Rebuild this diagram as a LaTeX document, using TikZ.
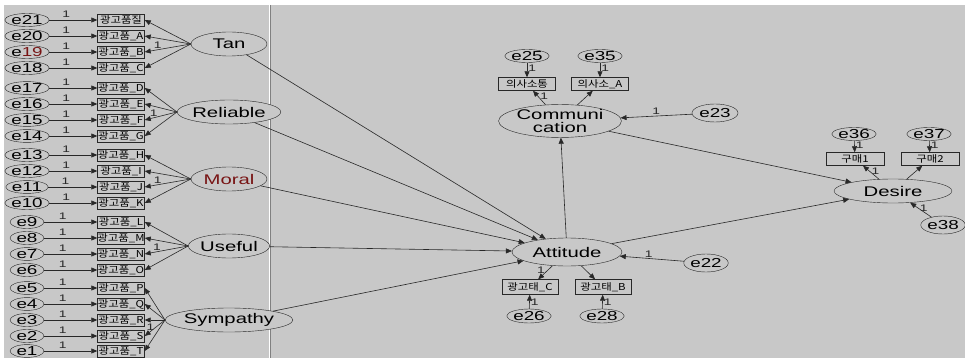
\documentclass[tikz,border=0pt]{standalone}
\usepackage{fontspec}
\setmainfont[FakeStretch=1.45]{Liberation Sans}
\newfontfamily\kor[FakeStretch=1.2]{Noto Sans CJK KR}
\usepackage{tikz}
\usetikzlibrary{arrows.meta, shapes.geometric}
\usepackage{xcolor}
\definecolor{amosbg}{RGB}{200,200,200}
\definecolor{amosline}{RGB}{40,40,40}
\definecolor{amosred}{RGB}{120,20,20}

\begin{document}
\begin{tikzpicture}[
    x=1pt, y=-1pt,
    err/.style={ellipse, draw=amosline, fill=amosbg, inner sep=0pt,
                minimum width=34pt, minimum height=12pt, font=\fontsize{13}{13}\selectfont},
    errbig/.style={err, minimum width=#1, minimum height=18pt},
    obs/.style={rectangle, draw=amosline, fill=amosbg, inner sep=0pt,
                minimum width=47pt, minimum height=12pt, font=\kor\fontsize{9.5}{10}\selectfont},
    lat/.style={ellipse, draw=amosline, fill=amosbg, inner sep=0pt,
                minimum height=24pt, font=\fontsize{14}{14}\selectfont},
    arr/.style={-{Triangle[length=6pt,width=5pt]}, line width=0.6pt, amosline},
    one/.style={font=\fontsize{9.5}{9.5}\selectfont, inner sep=1pt},
]
    \useasboundingbox (0,0) rectangle (965,358);
    \fill[amosbg] (4,5) rectangle (965,358);
    \draw[white, line width=1pt] (269,5) -- (269,358);
    \draw[gray, line width=0.6pt] (270.5,5) -- (270.5,358);

    % Left: latent factors
    \node[lat, minimum width=76pt] (tan) at (229,44) {Tan};
    \node[lat, minimum width=76pt] (rel) at (229,112) {Reliable};
    \node[lat, minimum width=76pt, text=amosred] (mor) at (229,179) {Moral};
    \node[lat, minimum width=76pt] (use) at (229,246) {Useful};
    \node[lat, minimum width=76pt] (sym) at (229,320) {Sympathy};

    % Left: indicators with their errors
    \foreach \n/\y/\lab/\elab in {
        21/20/광고품질/e21, 20/36/광고품\_A/e20, 19/52/광고품\_B/e{\color{amosred}19}, 18/68/광고품\_C/e18,
        17/88/광고품\_D/e17, 16/104/광고품\_E/e16, 15/120/광고품\_F/e15, 14/136/광고품\_G/e14,
        13/155/광고품\_H/e13, 12/171/광고품\_I/e12, 11/187/광고품\_J/e11, 10/203/광고품\_K/e10,
        9/222/광고품\_L/e9, 8/238/광고품\_M/e8, 7/254/광고품\_N/e7, 6/270/광고품\_O/e6,
        5/288/광고품\_P/e5, 4/304/광고품\_Q/e4, 3/320/광고품\_R/e3, 2/336/광고품\_S/e2, 1/351/광고품\_T/e1} {
        \node[err] (e\n) at (27,\y) {\elab};
        \node[obs] (x\n) at (121,\y) {\lab};
        \draw[arr] (e\n) -- (x\n) node[pos=0.35, above=1pt, one] {1};
    }

    % Loadings
    \foreach \n in {21,20,18} \draw[arr] (tan.west) -- (x\n.east);
    \draw[arr] (tan.west) -- (x19.east) node[pos=0.72, above, one] {1};
    \foreach \n in {17,16,14} \draw[arr] (rel.west) -- (x\n.east);
    \draw[arr] (rel.west) -- (x15.east) node[pos=0.72, above, one] {1};
    \foreach \n in {13,12,10} \draw[arr] (mor.west) -- (x\n.east);
    \draw[arr] (mor.west) -- (x11.east) node[pos=0.72, above, one] {1};
    \foreach \n in {9,8,6} \draw[arr] (use.west) -- (x\n.east);
    \draw[arr] (use.west) -- (x7.east) node[pos=0.72, above, one] {1};
    \foreach \n in {5,4,3,1} \draw[arr] (sym.west) -- (x\n.east);
    \draw[arr] (sym.west) -- (x2.east) node[pos=0.72, above, one] {1};

    % Right: structural part
    \node[lat, minimum width=110pt, minimum height=28pt] (att) at (567,252) {Attitude};
    \node[lat, minimum width=104pt, minimum height=28pt, align=center,
          font=\fontsize{14}{13}\selectfont] (comm) at (560,121) {Communi\\cation};
    \node[lat, minimum width=118pt] (des) at (893,191) {Desire};

    \node[obs, minimum width=57pt, minimum height=13pt] (c1) at (527,84) {의사소통};
    \node[obs, minimum width=57pt, minimum height=13pt] (c2) at (600,84) {의사소\_A};
    \node[obs, minimum width=56pt, minimum height=15pt] (a1) at (530,287) {광고태\_C};
    \node[obs, minimum width=56pt, minimum height=15pt] (a2) at (603,287) {광고태\_B};
    \node[obs, minimum width=58pt, minimum height=13pt] (d1) at (855,159) {구매1};
    \node[obs, minimum width=58pt, minimum height=13pt] (d2) at (930,159) {구매2};

    \node[err, minimum width=37pt] (e25) at (527,56) {e25};
    \node[err, minimum width=37pt] (e35) at (600,56) {e35};
    \node[err, minimum width=38pt, minimum height=14pt] (e26) at (529,316) {e26};
    \node[err, minimum width=38pt, minimum height=14pt] (e28) at (602,316) {e28};
    \node[err, minimum width=38pt] (e36) at (854,134) {e36};
    \node[err, minimum width=38pt] (e37) at (929,134) {e37};
    \node[errbig=46pt] (e23) at (715,113) {e23};
    \node[errbig=44pt] (e22) at (706,263) {e22};
    \node[errbig=39pt] (e38) at (943,225) {e38};

    % Paths
    \foreach \l in {tan,rel,mor,use,sym} \draw[arr] (\l) -- (att);
    \draw[arr] (att) -- (comm);
    \draw[arr] (comm) -- (des);
    \draw[arr] (att) -- (des);
    \draw[arr] (e23) -- (comm) node[pos=0.5, above, one] {1};
    \draw[arr] (e22) -- (att) node[pos=0.55, above, one] {1};
    \draw[arr] (e38) -- (des) node[pos=0.65, right=1pt, one] {1};

    % Measurement, right side
    \draw[arr] (comm) -- (c1) node[pos=0.6, right=1pt, one] {1};
    \draw[arr] (comm) -- (c2);
    \draw[arr] (e25) -- (c1) node[pos=0.4, right, one] {1};
    \draw[arr] (e35) -- (c2) node[pos=0.4, right, one] {1};
    \draw[arr] (att) -- (a1) node[pos=0.3, left=2pt, one] {1};
    \draw[arr] (att) -- (a2);
    \draw[arr] (e26) -- (a1) node[pos=0.5, right, one] {1};
    \draw[arr] (e28) -- (a2) node[pos=0.5, right, one] {1};
    \draw[arr] (des) -- (d1) node[pos=0.6, right=1pt, one] {1};
    \draw[arr] (des) -- (d2);
    \draw[arr] (e36) -- (d1) node[pos=0.4, right, one] {1};
    \draw[arr] (e37) -- (d2) node[pos=0.4, right, one] {1};
\end{tikzpicture}
\end{document}
